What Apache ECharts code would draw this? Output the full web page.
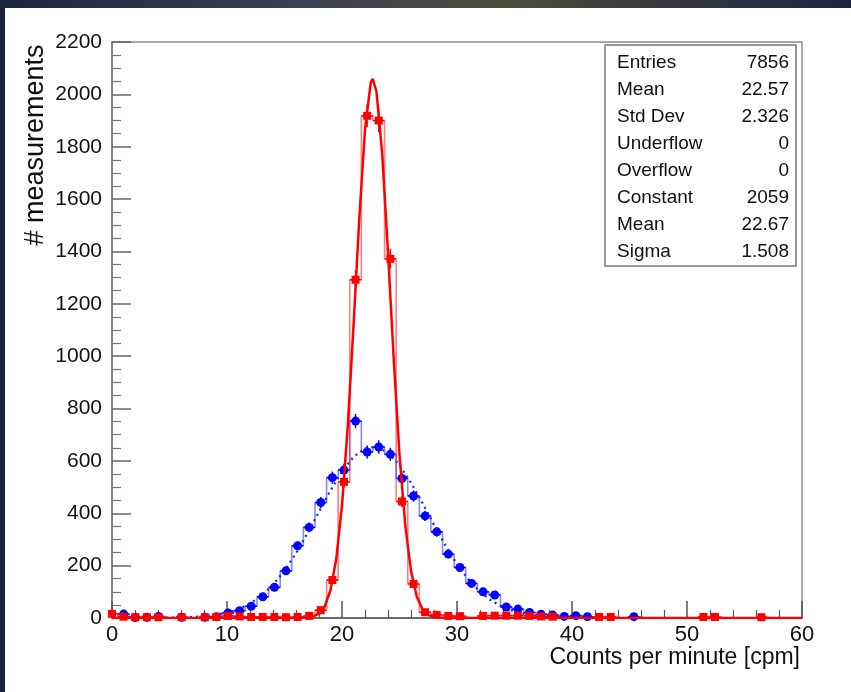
<!DOCTYPE html>
<html>
<head>
<meta charset="utf-8">
<title>cpm histogram</title>
<script src="https://cdn.jsdelivr.net/npm/echarts@6/dist/echarts.min.js"></script>
<style>
  html, body { margin: 0; padding: 0; background: #1b2139; }
  #chart { width: 851px; height: 692px; }
</style>
</head>
<body>
<div id="chart"></div>
<script>
// 60 bins from -0.5 to 60 (bin i centred at binLow + (i + 0.5) * binWidth)
var binLow = -0.5
var binHigh = 60
var nBins = 60

// counts per bin
var redCounts = [
  16, 5, 3, 3, 3, 0, 3, 0, 3, 4,
  8, 6, 4, 4, 4, 3, 4, 8, 30, 145,
  520, 1292, 1918, 1900, 1372, 445, 130, 22, 12, 8,
  7, 0, 8, 9, 9, 9, 8, 6, 5, 0,
  0, 0, 4, 4, 0, 0, 0, 0, 0, 0,
  0, 4, 4, 0, 0, 0, 3, 0, 0, 0
]
var blueCounts = [
  0, 15, 2, 3, 6, 0, 3, 0, 3, 5,
  19, 28, 45, 81, 117, 180, 276, 346, 441, 536,
  565, 752, 634, 653, 625, 533, 466, 390, 329, 244,
  193, 132, 100, 88, 42, 34, 21, 14, 11, 6,
  9, 5, 0, 0, 0, 5, 0, 0, 0, 0,
  0, 0, 0, 0, 0, 0, 0, 0, 0, 0
]

// fitted curves as drawn (solid red, dotted blue)
var redFitX = [0, 16, 17, 17.5, 18, 18.5, 19, 19.5, 20, 20.5, 21, 21.5, 22, 22.5, 22.67, 23, 23.5, 24, 24.5, 25, 25.5, 26, 26.5, 27, 27.5, 28, 28.5, 29.5, 60]
var redFitY = [0, 0.2, 1.8, 5.8, 17, 45, 106, 226, 430, 731, 1115, 1524, 1865, 2046, 2059, 2010, 1770, 1396, 986, 624, 354, 180, 82, 33, 12, 4, 1.2, 0.1, 0]
var blueFitX = [0, 5, 8, 10, 11, 12, 13, 14, 15, 16, 17, 18, 19, 20, 21, 22, 23, 24, 25, 26, 27, 28, 29, 30, 31, 32, 33, 34, 35, 36, 37, 38, 40, 42, 60]
var blueFitY = [0, 0.7, 6, 20, 34, 55, 85, 127, 181, 247, 324, 406, 487, 559, 615, 648, 654, 631, 584, 517, 439, 356, 277, 206, 147, 100, 66, 41, 25, 14, 8, 4, 1, 0, 0]

var xTicks = [0, 60, 10]
var yTicks = [0, 2200, 200]

var statLabels = ['Entries', 'Mean', 'Std Dev', 'Underflow', 'Overflow', 'Constant', 'Mean', 'Sigma']
var statValues = ['7856', '22.57', '2.326', '0', '0', '2059', '22.67', '1.508']

var xTitle = 'Counts per minute [cpm]'
var yTitle = '# measurements'

var binWidth = (binHigh - binLow) / nBins
var font = '"Liberation Sans", Arial, Helvetica, sans-serif'

function centres(counts) {
    return counts.map(function (v, i) { return [binLow + (i + 0.5) * binWidth, v] })
}
function nonEmpty(counts) {
    return centres(counts).filter(function (p) { return p[1] > 0 })
}
function pairs(xs, ys) {
    return xs.map(function (x, i) { return [x, ys[i]] })
}

function stepSeries(counts, color, z) {
    return {
        type: 'line',
        step: 'middle',
        data: centres(counts),
        symbol: 'none',
        lineStyle: { color: color, width: 1.6 },
        silent: true,
        z: z
    }
}

function errorSeries(counts, color, z) {
    return {
        type: 'custom',
        clip: true,
        silent: true,
        z: z,
        data: nonEmpty(counts),
        renderItem: function (params, api) {
            var x = api.value(0)
            var v = api.value(1)
            var e = Math.sqrt(v)
            var lo = api.coord([x, Math.max(v - e, 0)])
            var hi = api.coord([x, v + e])
            var l = api.coord([x - binWidth / 2, v])
            var r = api.coord([x + binWidth / 2, v])
            return {
                type: 'group',
                children: [
                    { type: 'line', shape: { x1: lo[0], y1: lo[1], x2: hi[0], y2: hi[1] }, style: { stroke: color, lineWidth: 1.5 } },
                    { type: 'line', shape: { x1: l[0], y1: l[1], x2: r[0], y2: r[1] }, style: { stroke: color, lineWidth: 1.5 } }
                ]
            }
        }
    }
}

function markerSeries(counts, color, symbol, size, z) {
    return {
        type: 'scatter',
        data: nonEmpty(counts),
        symbol: symbol,
        symbolSize: size,
        itemStyle: { color: color, opacity: 1 },
        silent: true,
        z: z
    }
}

// stats box
var boxX = 605, boxY = 45, boxW = 191, boxH = 221, rowH = 27
var statTexts = []
statLabels.forEach(function (lab, i) {
    var cy = boxY + 18 + i * rowH
    statTexts.push({
        type: 'text', x: boxX + 12, y: cy, z: 60,
        style: { text: lab, font: '19px ' + font, fill: '#111', textAlign: 'left', textVerticalAlign: 'middle' }
    })
    statTexts.push({
        type: 'text', x: boxX + boxW - 7, y: cy, z: 60,
        style: { text: statValues[i], font: '19px ' + font, fill: '#111', textAlign: 'right', textVerticalAlign: 'middle' }
    })
})

var chart = echarts.init(document.getElementById('chart'))
chart.setOption({
    backgroundColor: '#1b2139',
    animation: false,
    graphic: [
        {
            type: 'rect', shape: { x: 0, y: 0, width: 851, height: 8 }, z: -10,
            style: {
                fill: new echarts.graphic.LinearGradient(0, 0, 1, 0, [
                    { offset: 0, color: '#1d2440' },
                    { offset: 0.35, color: '#3c4050' },
                    { offset: 0.6, color: '#4b4a3c' },
                    { offset: 1, color: '#1d2440' }
                ])
            }
        },
        { type: 'rect', shape: { x: 5, y: 8, width: 846, height: 684 }, style: { fill: '#fff' }, z: -10 },
        {
            type: 'rect', shape: { x: boxX, y: boxY, width: boxW, height: boxH }, z: 50,
            style: { fill: '#fff', stroke: '#777', lineWidth: 1.5 }
        }
    ].concat(statTexts).concat([
        {
            type: 'text', x: 36, y: 145, rotation: Math.PI / 2, z: 50,
            style: { text: yTitle, font: '27px ' + font, fill: '#111', textAlign: 'center', textVerticalAlign: 'middle' }
        },
        {
            type: 'text', x: 800, y: 658, z: 50,
            style: { text: xTitle, font: '23px ' + font, fill: '#111', textAlign: 'right', textVerticalAlign: 'middle' }
        }
    ]),
    grid: {
        left: 112, top: 42, width: 690, height: 576,
        show: true, borderColor: '#8a8a8a', borderWidth: 1.5, backgroundColor: 'transparent'
    },
    xAxis: {
        type: 'value',
        min: xTicks[0], max: xTicks[1], interval: xTicks[2],
        axisLine: { onZero: false, lineStyle: { color: '#555', width: 1.5 } },
        axisTick: { inside: true, length: 17, lineStyle: { color: '#555', width: 1.5 } },
        minorTick: { show: true, splitNumber: 5, length: 8, lineStyle: { color: '#555', width: 1.2 } },
        splitLine: { show: false },
        axisLabel: { fontSize: 22, fontFamily: font, color: '#111', margin: 6 }
    },
    yAxis: {
        type: 'value',
        min: yTicks[0], max: yTicks[1], interval: yTicks[2],
        axisLine: { show: true, lineStyle: { color: '#777', width: 1.5 } },
        axisTick: { show: true, inside: true, length: 19, lineStyle: { color: '#666', width: 1.5 } },
        minorTick: { show: true, splitNumber: 4, length: 9, lineStyle: { color: '#777', width: 1.2 } },
        splitLine: { show: false },
        axisLabel: {
            fontSize: 21, fontFamily: font, color: '#111', margin: 10,
            formatter: function (v) { return String(v) }
        }
    },
    series: [
        stepSeries(blueCounts, 'rgba(40,60,255,0.6)', 2),
        errorSeries(blueCounts, '#0000ff', 3),
        markerSeries(blueCounts, '#0000ff', 'circle', 9, 4),
        {
            type: 'line', data: pairs(blueFitX, blueFitY), symbol: 'none', silent: true, z: 5,
            lineStyle: { color: '#1a1aff', width: 2.2, type: [2, 4] }
        },
        stepSeries(redCounts, 'rgba(255,40,40,0.6)', 6),
        errorSeries(redCounts, '#ff0000', 7),
        markerSeries(redCounts, '#ff0000', 'rect', 8, 8),
        {
            type: 'line', data: pairs(redFitX, redFitY), symbol: 'none', silent: true, z: 9,
            lineStyle: { color: '#ff0000', width: 2.5 }
        }
    ]
})
</script>
</body>
</html>
